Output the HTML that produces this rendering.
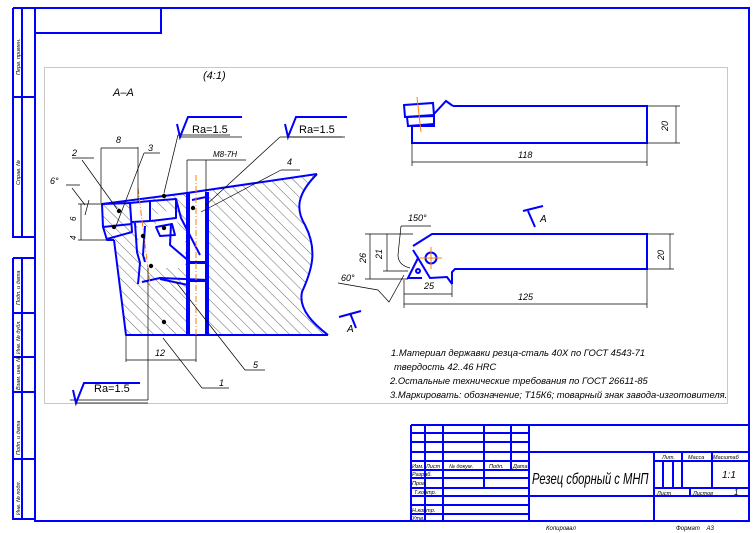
<!DOCTYPE html>
<html><head><meta charset="utf-8"><style>
html,body{margin:0;padding:0;background:#fff;}
svg{display:block;}
text{font-family:"Liberation Sans","DejaVu Sans",sans-serif;font-style:italic;fill:#000;}
</style></head><body>
<svg width="754" height="533" viewBox="0 0 754 533" xmlns="http://www.w3.org/2000/svg">
<defs>
<pattern id="h" patternUnits="userSpaceOnUse" width="8" height="8" patternTransform="rotate(-45)">
<line x1="0" y1="-1" x2="0" y2="9" stroke="#000" stroke-width="0.6"/>
</pattern>
</defs>
<rect width="754" height="533" fill="#fff"/>
<g stroke="#0000ff" stroke-width="2" fill="none">
<path d="M35 8 H749 V521 H35 Z"/>
<path d="M35 33 H161 V8"/>
<path d="M13 8 H35 M13 8 V237 H35 M22 8 V237 M13 97 H35"/>
<path d="M13 258 H35 M13 258 V519 H35 M22 258 V519 M13 313 H35 M13 357 H35 M13 392 H35 M13 459 H35"/>
</g>
<g font-size="5.5">
<text transform="translate(20,75) rotate(-90)">Перв. примен.</text>
<text transform="translate(20,185) rotate(-90)">Справ. №</text>
<text transform="translate(20,305) rotate(-90)">Подп. и дата</text>
<text transform="translate(20,354) rotate(-90)">Инв. № дубл.</text>
<text transform="translate(20,390) rotate(-90)">Взам. инв. №</text>
<text transform="translate(20,455) rotate(-90)">Подп. и дата</text>
<text transform="translate(20,515) rotate(-90)">Инв. № подл.</text>
</g>
<rect x="44.5" y="67.5" width="683" height="336" fill="none" stroke="#c8c8c8" stroke-width="1"/>

<text x="113" y="96" font-size="11">А–А</text>
<text x="203" y="79" font-size="11">(4:1)</text>
<path d="M114 240 L103 227 L102 204 L187 193 L317 174 C296 195 296 210 305 225 C318 250 312 270 302 292 C298 310 315 325 328 335 L126 335 Z" fill="url(#h)"/>
<path d="M130 203 L152 200 L152 220 L130 222 Z M135 228 L160 225 L178 250 L178 268 L150 268 L140 245 Z M155 215 L170 210 L185 235 L185 265 L160 258 Z" fill="#fff"/>
<path d="M187 193 L208 190 L208 335 L187 335 Z" fill="#fff"/>
<g stroke="#0000ff" stroke-width="2" fill="none" stroke-linejoin="round">
<path d="M114 240 L107 240 L103 227 L102 204 L187 193 L317 174"/>
<path d="M317 174 C296 195 296 210 305 225 C318 250 312 270 302 292 C298 310 315 325 328 335"/>
<path d="M328 335 L126 335 L114 240"/>
<path d="M103 204 L130 203 L132 232 L107 239"/>
<path d="M103 227 L132 224"/>
<path d="M130 203 L150 201 L150 221 L132 222"/>
<path d="M150 201 L176 199 L176 218 L151 221"/>
<path d="M156 227 L172 224 L175 235 L160 236 Z"/>
<path d="M135 223 L137 252 L140 263 L138 284"/>
<path d="M145 226 L143 255 L145 262"/>
<path d="M171 224 L170 245 L190 262 L208 262"/>
<path d="M176 199 L181 218 L200 255"/>
<path d="M142 282 L160 278 L208 280"/>
<path d="M160 279 L188 285 L188 335"/>
<path d="M187 193 V335 M189 193 V335 M206 192 V335 M208 192 V335"/>
<path d="M187 263 H208 M187 281 H208"/>
<path d="M192 200 L206 197"/>
</g>
<g stroke="#ff8000" stroke-width="1" stroke-dasharray="6,2,1,2" fill="none">
<path d="M138 188 L150 285"/>
<path d="M196 175 V335"/>
</g>
<g stroke="#000" stroke-width="0.7" fill="none">
<path d="M101 203 V148 M138 147 V203 M101 148 H138"/>
<path d="M78 204 H103 M78 240 H107 M81 204 V240"/>
<path d="M72 188 L85 205 M89 200 L85 215"/>
<path d="M66 185 H80 M82 160 L117 209 M72 158 H94"/>
<path d="M144 153 L116 226 M144 153 H160"/>
<path d="M178 135 L164 193 M178 135 H230"/>
<path d="M280 137 L206 205 M280 137 H342"/>
<path d="M187 160 V193 M206 160 V192 M187 160 H246"/>
<path d="M281 170 L201 212 M281 170 H300"/>
<path d="M126 335 V362 M196 335 V362 M126 360 H196"/>
<path d="M148 268 V400 M148 400 H70"/>
<path d="M163 338 L202 388 H229"/>
<path d="M176 282 L245 370 H265"/>
</g>
<g fill="#000">
<circle cx="119" cy="211" r="2.2"/><circle cx="114" cy="227" r="2.2"/>
<circle cx="164" cy="196" r="2.2"/><circle cx="164" cy="228" r="2.2"/>
<circle cx="143" cy="236" r="2.2"/><circle cx="151" cy="266" r="2.2"/>
<circle cx="193" cy="208" r="2.2"/><circle cx="164" cy="322" r="2.2"/>
</g>
<g font-size="9">
<text x="116" y="143">8</text><text x="148" y="151">3</text>
<text x="72" y="156">2</text><text x="50" y="184">6°</text>
<text x="213" y="157" font-size="8">М8-7Н</text>
<text x="287" y="165">4</text>
<text transform="translate(76,221) rotate(-90)" font-size="8">6</text>
<text transform="translate(76,240) rotate(-90)" font-size="8">4</text>
<text x="155" y="356">12</text>
<text x="253" y="368">5</text><text x="219" y="386">1</text>
</g>
<g stroke="#0000ff" stroke-width="2" fill="none">
<path d="M177 124 L180 137 L188 117 H242"/>
<path d="M285 124 L288 137 L296 117 H347"/>
<path d="M73 390 L76 403 L84 383 H140"/>
</g>
<g font-size="11">
<text x="192" y="133" style="font-style:normal">Ra=1.5</text>
<text x="299" y="133" style="font-style:normal">Ra=1.5</text>
<text x="94" y="392" style="font-style:normal">Ra=1.5</text>
</g>
<g stroke="#000" stroke-width="0.7"><path d="M180 137 H242 M288 137 H345 M76 403 H148"/></g>

<g stroke="#0000ff" stroke-width="2" fill="none">
<path d="M453 106 H647 V143 H412 V126"/>
<path d="M412 126 H434 V114 H434 L446 101 L453 106"/>
<path d="M404 105 L433 103 L434 115 L405 117 Z"/>
<path d="M407 117 L434 116 L434 124 L408 126 Z"/>
</g>
<path d="M417 97 L421 132" stroke="#ff8000" stroke-width="1"/>
<g stroke="#000" stroke-width="0.7" fill="none">
<path d="M412 143 V166 M647 143 V166 M412 162 H647"/>
<path d="M647 106 H680 M647 143 H680 M676 106 V143"/>
</g>
<text x="518" y="158" font-size="9">118</text>
<text transform="translate(668,131) rotate(-90)" font-size="9">20</text>

<g stroke="#0000ff" stroke-width="2" fill="none">
<path d="M413 246 L432 234 H647 V269 H455 L452 272 V284"/>
<path d="M452 284 L447 277 L430 278 L418 258 L408 278 H422"/>
<path d="M413 250 L418 258"/>
<circle cx="431" cy="258" r="5.5"/>
<circle cx="418" cy="271" r="2"/>
<path d="M523 211 L543 206 M528 211 L535 227"/>
<path d="M339 317 L361 311 M350 313 L356 328"/>
</g>
<path d="M420 258 H442 M431 247 V269" stroke="#ff8000" stroke-width="1"/>
<g stroke="#000" stroke-width="0.7" fill="none">
<path d="M365 234 H413 M365 279 H408 M370 234 V279"/>
<path d="M383 271 H408 M387 234 V271"/>
<path d="M404 280 V308 M647 269 V308 M404 304 H647"/>
<path d="M452 284 V297 M404 294 H452"/>
<path d="M647 234 H674 M647 269 H674 M670 234 V269"/>
<path d="M401 226 L398 255 Q398 265 410 268 M401 226 H431"/>
<path d="M338 283 L378 290 L389 302 L404 275"/>
</g>
<text x="408" y="221" font-size="9">150°</text>
<text transform="translate(366,263) rotate(-90)" font-size="9">26</text>
<text transform="translate(382,259) rotate(-90)" font-size="9">21</text>
<text x="341" y="281" font-size="9">60°</text>
<text x="424" y="289" font-size="9">25</text>
<text x="518" y="300" font-size="9">125</text>
<text transform="translate(664,260) rotate(-90)" font-size="9">20</text>
<text x="540" y="222" font-size="10">А</text>
<text x="347" y="332" font-size="10">А</text>

<g font-size="9.4">
<text x="391" y="356">1.Материал державки резца-сталь 40Х по ГОСТ 4543-71</text>
<text x="394" y="370">твердость 42..46 HRC</text>
<text x="390" y="384">2.Остальные технические требования по ГОСТ 26611-85</text>
<text x="390" y="398">3.Маркировать: обозначение; Т15К6; товарный знак завода-изготовителя.</text>
</g>

<g stroke="#0000ff" stroke-width="2" fill="none">
<path d="M411 425 H749 M411 425 V521"/>
<path d="M425 425 V521 M443 425 V521 M484 425 V488 M511 425 V470 M529 425 V521"/>
<path d="M411 433 H529 M411 442 H529 M411 452 H529 M411 461 H529 M411 470 H529 M411 478 H529 M411 488 H529 M411 496 H529 M411 505 H529 M411 514 H529"/>
<path d="M529 452 H749 M654 452 V521 M654 461 H749 M682 452 V488 M712 452 V488 M663 461 V488 M673 461 V488 M654 488 H749 M690 488 V496 M529 496 H749"/>
</g>
<g font-size="5.5">
<text x="412" y="468">Изм.</text><text x="426" y="468">Лист</text><text x="449" y="468">№ докум.</text><text x="489" y="468">Подп.</text><text x="513" y="468">Дата</text>
<text x="412" y="476">Разраб.</text><text x="412" y="485">Пров.</text><text x="414" y="494">Т.контр.</text>
<text x="412" y="512">Н.контр.</text><text x="412" y="520">Утв.</text>
<text x="662" y="459">Лит.</text><text x="688" y="459">Масса</text><text x="713" y="459">Масштаб</text>
<text x="657" y="495">Лист</text><text x="693" y="495">Листов</text><text x="734" y="495" font-size="8">1</text>
</g>
<text x="722" y="478" font-size="10">1:1</text>
<text font-size="16" transform="translate(532,484) scale(0.7,1)">Резец сборный с МНП</text>
<text x="546" y="530" font-size="6">Копировал</text>
<text x="676" y="530" font-size="6">Формат&#160;&#160;&#160;&#160;А3</text>
</svg>
</body></html>
